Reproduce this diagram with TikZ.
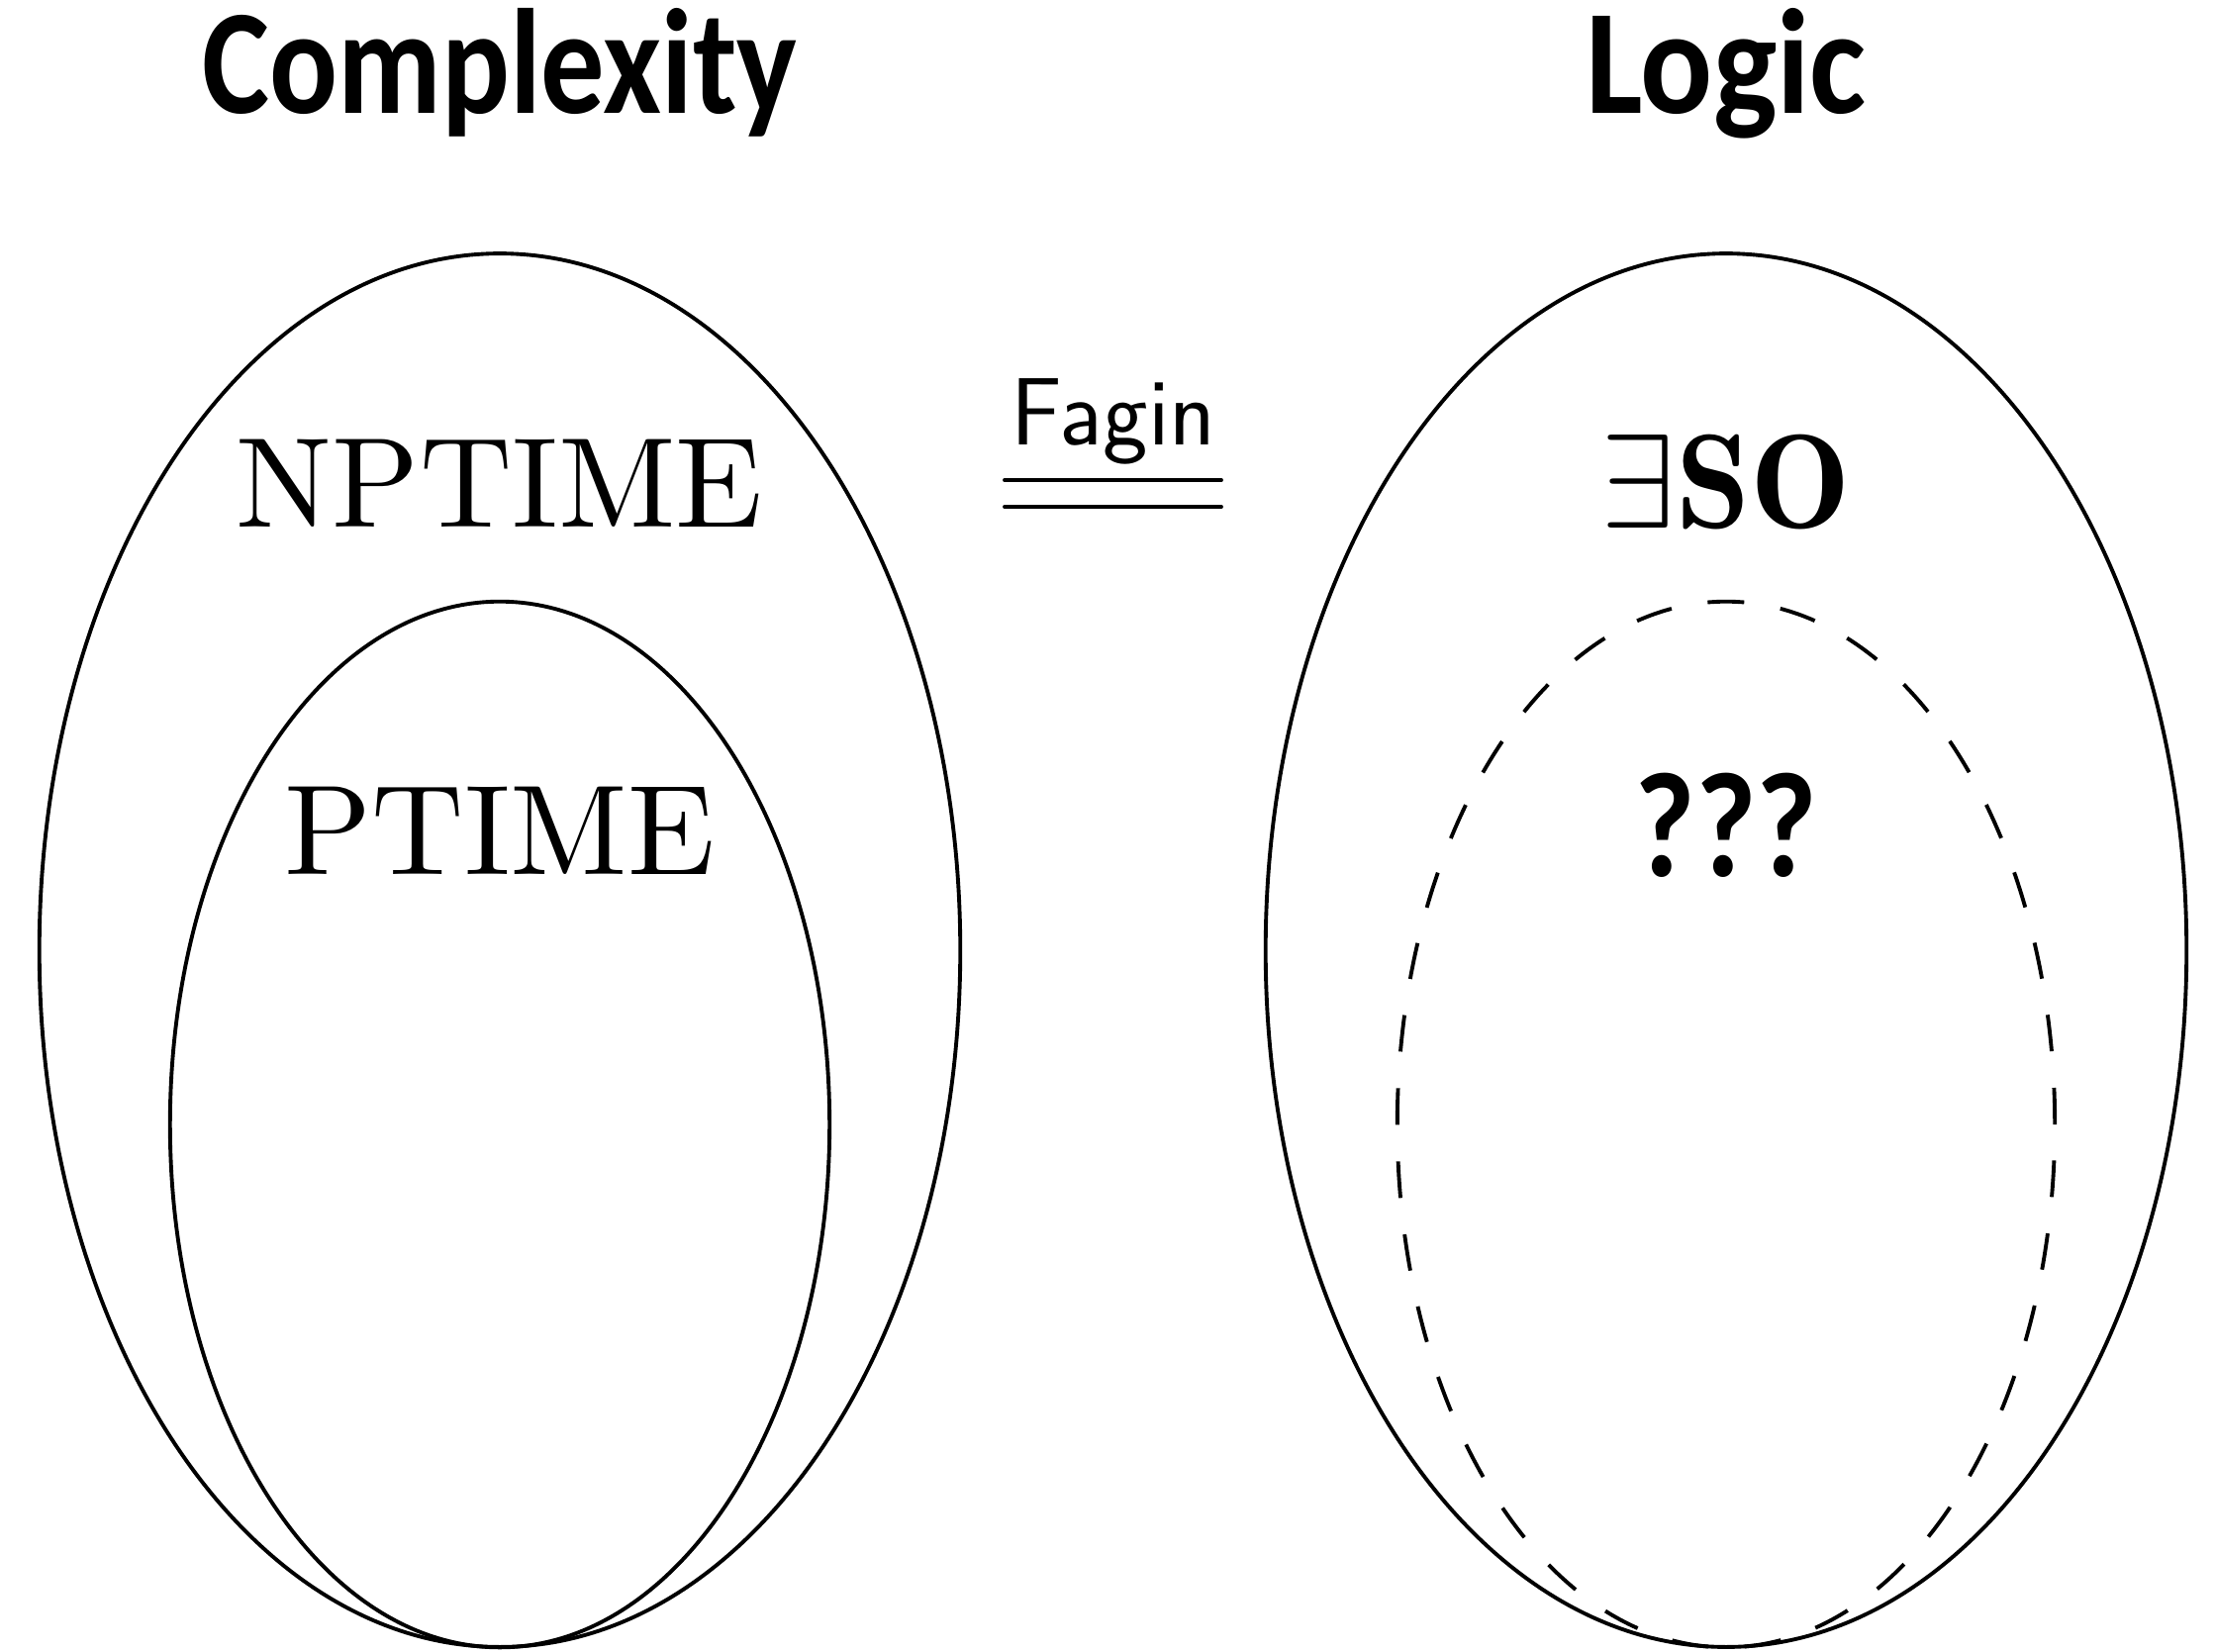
\RequirePackage{fix-cm}
\documentclass[tikz,border=0pt]{standalone}
\usepackage{graphicx}
\usepackage{fontspec}
\newfontfamily\titlefont{Carlito}[BoldFont={Carlito Bold}]
\newfontfamily\romanten{lmroman10-regular.otf}
\usetikzlibrary{shapes.geometric}
\tikzset{
  set/.style={ellipse, draw, line width=1.1pt, inner sep=0pt, outer sep=0pt},
  subset/.style={set},
  unknownset/.style={set, dash pattern=on 3.7mm off 3.7mm},
  head/.style={anchor=base, font=\titlefont\bfseries\fontsize{43}{50}\selectfont},
  cls/.style={anchor=base, font=\romanten\fontsize{36.8}{44}\selectfont},
  logiccls/.style={anchor=base, font=\fontsize{38.5}{45}\selectfont},
  eqline/.style={line width=1.1pt, line cap=round}
}
\begin{document}
\begin{tikzpicture}[x=0.01cm, y=-0.01cm]
\useasboundingbox (0,0) rectangle (2238,1668);
% headings
\node[head] (hcomp) at (505,114) {\scalebox{0.85}[1]{Complexity}};
\node[head] (hlogic) at (1744,114) {\scalebox{0.9}[1]{Logic}};
% left ellipses
\node[set, minimum width=9.30cm, minimum height=14.07cm] (np) at (505,960) {};
\node[subset, minimum width=6.66cm, minimum height=10.56cm] (p) at (505,1136) {};
% right ellipses
\node[set, minimum width=9.30cm, minimum height=14.07cm] (eso) at (1744,960) {};
\node[unknownset, minimum width=6.64cm, minimum height=10.56cm] (q) at (1744,1136) {};
% labels
\node[cls] (lnp) at (505,532) {NPTIME};
\node[cls] (lp) at (505,883) {PTIME};
\node[logiccls] (leso) at (1744,533) {$\exists\mathbf{SO}$};
\node[head] (lq) at (1744,885) {\scalebox{0.88}[1]{???}};
% Fagin
\node[anchor=base, font=\sffamily\fontsize{27.5}{32}\selectfont] (fagin) at (1125,449) {Fagin};
\coordinate (a1) at (1015,485);
\coordinate (b1) at (1234,485);
\coordinate (a2) at (1015,512);
\coordinate (b2) at (1234,512);
\draw[eqline] (a1) -- (b1);
\draw[eqline] (a2) -- (b2);
\end{tikzpicture}
\end{document}
